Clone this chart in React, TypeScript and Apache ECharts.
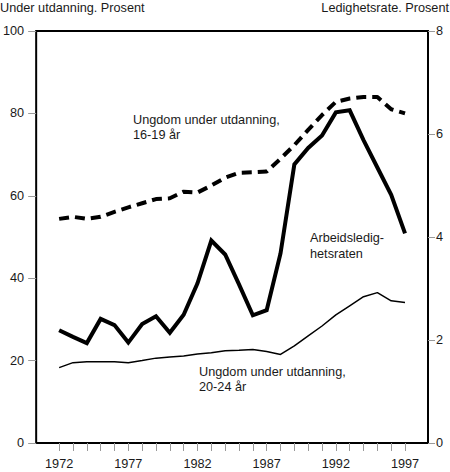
import { useEffect, useRef } from 'react';
import * as echarts from 'echarts';

const years = [
  1972, 1973, 1974, 1975, 1976, 1977, 1978, 1979, 1980, 1981, 1982, 1983, 1984,
  1985, 1986, 1987, 1988, 1989, 1990, 1991, 1992, 1993, 1994, 1995, 1996, 1997,
];
const yearLabels = [1972, 1977, 1982, 1987, 1992, 1997];

// Ungdom under utdanning, 16-19 år (venstre akse)
const youth1619 = [
  54.4, 54.9, 54.4, 54.9, 56.1, 57.2, 58.2, 59.2, 59.4, 61.0, 60.8, 62.5, 64.4,
  65.6, 65.7, 65.9, 69.0, 72.3, 76.0, 79.6, 82.8, 83.6, 84.0, 84.0, 81.0, 80.0,
];
// Ungdom under utdanning, 20-24 år (venstre akse)
const youth2024 = [
  18.3, 19.5, 19.7, 19.7, 19.7, 19.5, 20.0, 20.6, 20.9, 21.1, 21.6, 21.9, 22.4,
  22.5, 22.7, 22.2, 21.5, 23.6, 26.0, 28.4, 31.1, 33.3, 35.5, 36.5, 34.5, 34.1,
];
// Arbeidsledighetsraten (høyre akse)
const unemployment = [
  2.19, 2.06, 1.94, 2.41, 2.29, 1.95, 2.31, 2.46, 2.14, 2.49, 3.1, 3.93, 3.66,
  3.08, 2.48, 2.58, 3.68, 5.41, 5.73, 5.97, 6.42, 6.46, 5.88, 5.35, 4.82, 4.07,
];

const leftName = 'Under utdanning. Prosent';
const rightName = 'Ledighetsrate. Prosent';

const FONT = '"Liberation Sans", Arial, sans-serif';
const SIZE = 12.7;
const TEXT = '#1a1a1a';
const TICK = '#9a9a9a';

const pairs = (vals: number[]) => years.map((y, i) => [y, vals[i]]);

export default function App() {
  const chartRef = useRef<HTMLDivElement>(null);

  useEffect(() => {
    if (!chartRef.current) return;
    const chart = echarts.init(chartRef.current, undefined, { renderer: 'svg' });

    const option: echarts.EChartsOption = {
      animation: false,
      backgroundColor: '#fff',
      textStyle: { fontFamily: FONT },
      grid: {
        left: 35,
        right: 22,
        top: 31,
        bottom: 29,
        show: true,
        borderColor: '#000',
        borderWidth: 2,
      },
      xAxis: {
        type: 'value',
        min: 1970.34,
        max: 1998.66,
        axisLine: { show: false },
        splitLine: { show: false },
        axisTick: {
          show: true,
          length: 8,
          customValues: years,
          lineStyle: { color: TICK, width: 1 },
        },
        axisLabel: {
          customValues: yearLabels,
          formatter: (v: number) => String(Math.round(v)),
          margin: 14,
          color: TEXT,
          fontSize: SIZE,
          fontFamily: FONT,
        },
      },
      yAxis: [
        {
          type: 'value',
          min: 0,
          max: 100,
          interval: 20,
          position: 'left',
          axisLine: { show: false },
          splitLine: { show: false },
          axisTick: { show: true, length: 8, lineStyle: { color: TICK } },
          axisLabel: { margin: 12, color: TEXT, fontSize: SIZE, fontFamily: FONT },
        },
        {
          type: 'value',
          min: 0,
          max: 8,
          interval: 2,
          position: 'right',
          axisLine: { show: false },
          splitLine: { show: false },
          axisTick: { show: true, length: 7, lineStyle: { color: TICK } },
          axisLabel: { margin: 8, color: TEXT, fontSize: SIZE, fontFamily: FONT },
        },
      ],
      series: [
        {
          type: 'line',
          name: '16-19 år',
          yAxisIndex: 0,
          data: pairs(youth1619),
          symbol: 'none',
          lineStyle: { color: '#000', width: 4, type: [10, 6], cap: 'butt' },
        },
        {
          type: 'line',
          name: '20-24 år',
          yAxisIndex: 0,
          data: pairs(youth2024),
          symbol: 'none',
          lineStyle: { color: '#000', width: 1.5 },
        },
        {
          type: 'line',
          name: 'Arbeidsledighetsraten',
          yAxisIndex: 1,
          data: pairs(unemployment),
          symbol: 'none',
          lineStyle: { color: '#000', width: 4, join: 'miter' },
        },
      ],
      graphic: [
        {
          type: 'text',
          left: 0,
          top: 1,
          style: { text: leftName, fill: TEXT, font: `${SIZE}px ${FONT}` },
        },
        {
          type: 'text',
          right: 1,
          top: 1,
          style: { text: rightName, fill: TEXT, font: `${SIZE}px ${FONT}` },
        },
        {
          type: 'text',
          left: 133,
          top: 112,
          style: {
            text: 'Ungdom under utdanning,\n16-19 år',
            fill: TEXT,
            font: `${SIZE}px ${FONT}`,
            lineHeight: 15,
          },
        },
        {
          type: 'text',
          left: 310,
          top: 230,
          style: {
            text: 'Arbeidsledig-\nhetsraten',
            fill: TEXT,
            font: `${SIZE}px ${FONT}`,
            lineHeight: 16,
          },
        },
        {
          type: 'text',
          left: 199,
          top: 364,
          style: {
            text: 'Ungdom under utdanning,\n20-24 år',
            fill: TEXT,
            font: `${SIZE}px ${FONT}`,
            lineHeight: 15,
          },
        },
      ],
    };

    chart.setOption(option);
    return () => {
      chart.dispose();
    };
  }, []);

  return (
    <div
      ref={chartRef}
      style={{ position: 'absolute', left: 0, top: 0, width: 450, height: 472 }}
    />
  );
}
